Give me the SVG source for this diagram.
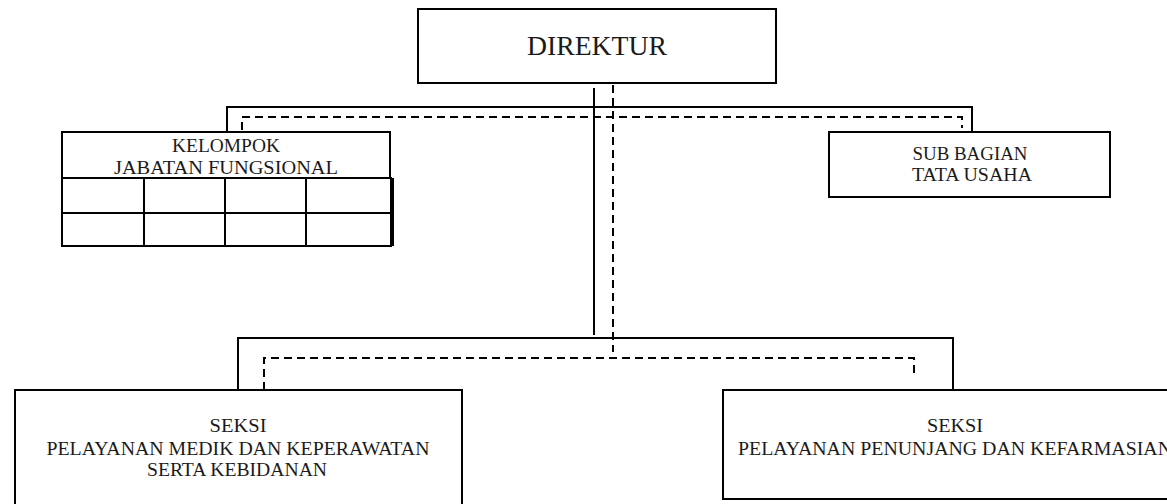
<svg xmlns="http://www.w3.org/2000/svg" width="1167" height="504" viewBox="0 0 1167 504">
<style>
.box{fill:#fff;stroke:#000;stroke-width:2}
.ln{fill:none;stroke:#000;stroke-width:2}
.ds{fill:none;stroke:#000;stroke-width:2;stroke-dasharray:8 5}
.t{font-family:"Liberation Serif","DejaVu Serif",serif;font-size:18.5px;fill:#1a1a1a;text-anchor:middle}
.big{font-size:27px}
</style>
<rect width="1167" height="504" fill="#fff"/>
<g id="connectors">
<path class="ln" d="M594 88V335"/>
<path class="ds" d="M613 85V352"/>
<path class="ln" d="M227 131V107H972V132"/>
<path class="ds" d="M242 130V117H962V128"/>
<path class="ln" d="M238 390V338H953V390"/>
<path class="ds" d="M264 390V358H914V378"/>
</g>
<g id="direktur">
<rect class="box" x="418" y="9" width="358" height="74"/>
<text class="t big" x="597" y="55" textLength="140" lengthAdjust="spacingAndGlyphs">DIREKTUR</text>
</g>
<g id="kelompok">
<rect class="box" x="62" y="132" width="328" height="46"/>
<text class="t" x="226" y="152" textLength="108" lengthAdjust="spacingAndGlyphs">KELOMPOK</text>
<text class="t" x="226" y="174" textLength="224" lengthAdjust="spacingAndGlyphs">JABATAN FUNGSIONAL</text>
<rect class="box" x="62" y="178" width="329" height="68"/>
<path class="ln" d="M62 213H391M144 178V246M225 178V246M306 178V246"/>
<path class="ln" d="M393 178V246" stroke-width="1"/>
</g>
<g id="subbagian">
<rect class="box" x="829" y="132" width="281" height="65"/>
<text class="t" x="970" y="160" textLength="115" lengthAdjust="spacingAndGlyphs">SUB BAGIAN</text>
<text class="t" x="972" y="181" textLength="120" lengthAdjust="spacingAndGlyphs">TATA USAHA</text>
</g>
<g id="seksi-medik">
<rect class="box" x="15" y="390" width="447" height="118"/>
<text class="t" x="238" y="432" textLength="57" lengthAdjust="spacingAndGlyphs">SEKSI</text>
<text class="t" x="238" y="455" textLength="383" lengthAdjust="spacingAndGlyphs">PELAYANAN MEDIK DAN KEPERAWATAN</text>
<text class="t" x="237" y="476" textLength="180" lengthAdjust="spacingAndGlyphs">SERTA KEBIDANAN</text>
</g>
<g id="seksi-penunjang">
<rect class="box" x="723" y="390" width="464" height="109"/>
<text class="t" x="955" y="432" textLength="56" lengthAdjust="spacingAndGlyphs">SEKSI</text>
<text class="t" x="955" y="455" textLength="434" lengthAdjust="spacingAndGlyphs">PELAYANAN PENUNJANG DAN KEFARMASIAN</text>
</g>
</svg>
